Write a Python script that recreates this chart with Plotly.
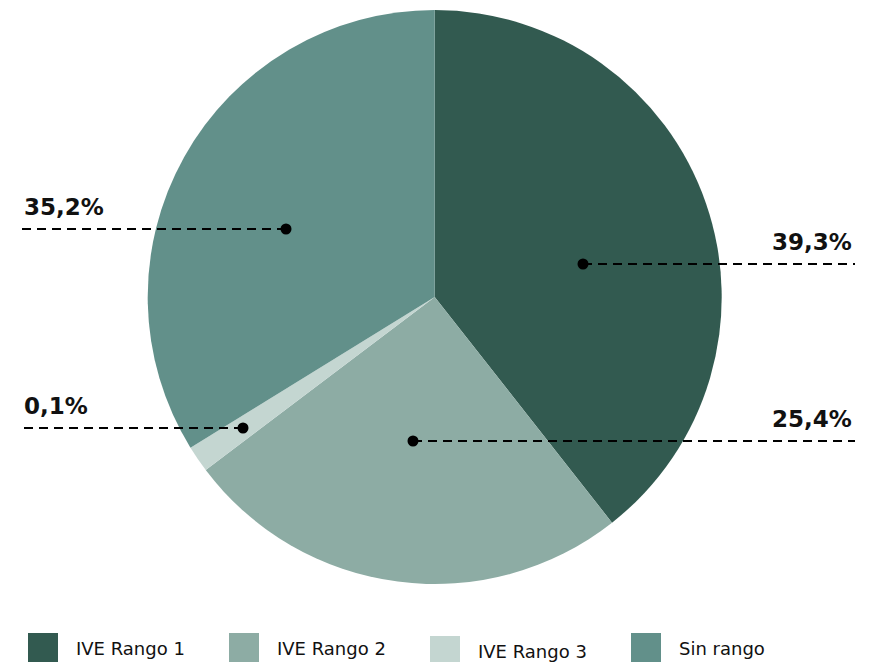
import plotly.graph_objects as go

W, H = 877, 662
OFF = 8  # page body margin offset compensation

# ---- data ----
categories = ["IVE Rango 1", "IVE Rango 2", "IVE Rango 3", "Sin rango"]
slice_values = [39.4, 25.3, 1.5, 33.8]          # slice sizes as drawn
label_texts = ["39,3%", "25,4%", "0,1%", "35,2%"]  # printed labels
colors = ["#325A50", "#8DACA4", "#C4D6D1", "#62908A"]

# ---- layout constants (pixels from top-left of the view) ----
cx, cy, R = 434.7, 297.0, 287.0
# callouts: (dot x, dot y, line end x, text anchor x, xanchor)
callouts = {
    "IVE Rango 1": (583, 264, 855, 854, "right"),
    "IVE Rango 2": (413, 441, 855, 854, "right"),
    "IVE Rango 3": (243, 428, 22, 22, "left"),
    "Sin rango":   (286, 229, 22, 22, "left"),
}
legend_x = [28, 229, 430, 631]
legend_dy = [0, 0, 3, 0]


def px(x):
    return (x - OFF) / W


def py(y):
    return 1 - (y - OFF) / H


fig = go.Figure()
fig.add_trace(go.Pie(
    labels=categories,
    values=slice_values,
    sort=False,
    direction="clockwise",
    rotation=0,
    marker=dict(colors=colors, line=dict(width=0)),
    textinfo="none",
    hoverinfo="label+percent",
    showlegend=False,
    domain=dict(x=[px(cx - R), px(cx + R)], y=[py(cy + R), py(cy - R)]),
))

shapes = []
annotations = []
FONT = "DejaVu Sans"
for cat, txt in zip(categories, label_texts):
    dx, dy, lx, tx, xa = callouts[cat]
    shapes.append(dict(type="line", xref="paper", yref="paper", layer="above",
                       x0=px(dx), x1=px(lx), y0=py(dy), y1=py(dy),
                       line=dict(color="black", width=2, dash="9px,6px")))
    shapes.append(dict(type="circle", xref="paper", yref="paper", layer="above",
                       x0=px(dx - 5.5), x1=px(dx + 5.5), y0=py(dy - 5.5), y1=py(dy + 5.5),
                       fillcolor="black", line=dict(width=0)))
    annotations.append(dict(xref="paper", yref="paper", x=px(tx), y=py(dy - 22),
                            text="<b>" + txt + "</b>", showarrow=False,
                            xanchor=xa, yanchor="middle",
                            font=dict(family=FONT, size=23, color="#111111")))

for i, (cat, col) in enumerate(zip(categories, colors)):
    x0 = legend_x[i]
    y0 = 633 + legend_dy[i]
    shapes.append(dict(type="rect", xref="paper", yref="paper", layer="above",
                       x0=px(x0), x1=px(x0 + 30), y0=py(y0), y1=py(y0 + 32),
                       fillcolor=col, line=dict(width=0)))
    annotations.append(dict(xref="paper", yref="paper", x=px(x0 + 46), y=py(y0 + 15),
                            text=cat, showarrow=False, xanchor="left", yanchor="middle",
                            font=dict(family=FONT, size=18, color="#111111")))

fig.update_layout(
    width=W, height=H,
    margin=dict(l=0, r=0, t=0, b=0),
    paper_bgcolor="white", plot_bgcolor="white",
    shapes=shapes, annotations=annotations,
)

fig.write_html("out.html")
